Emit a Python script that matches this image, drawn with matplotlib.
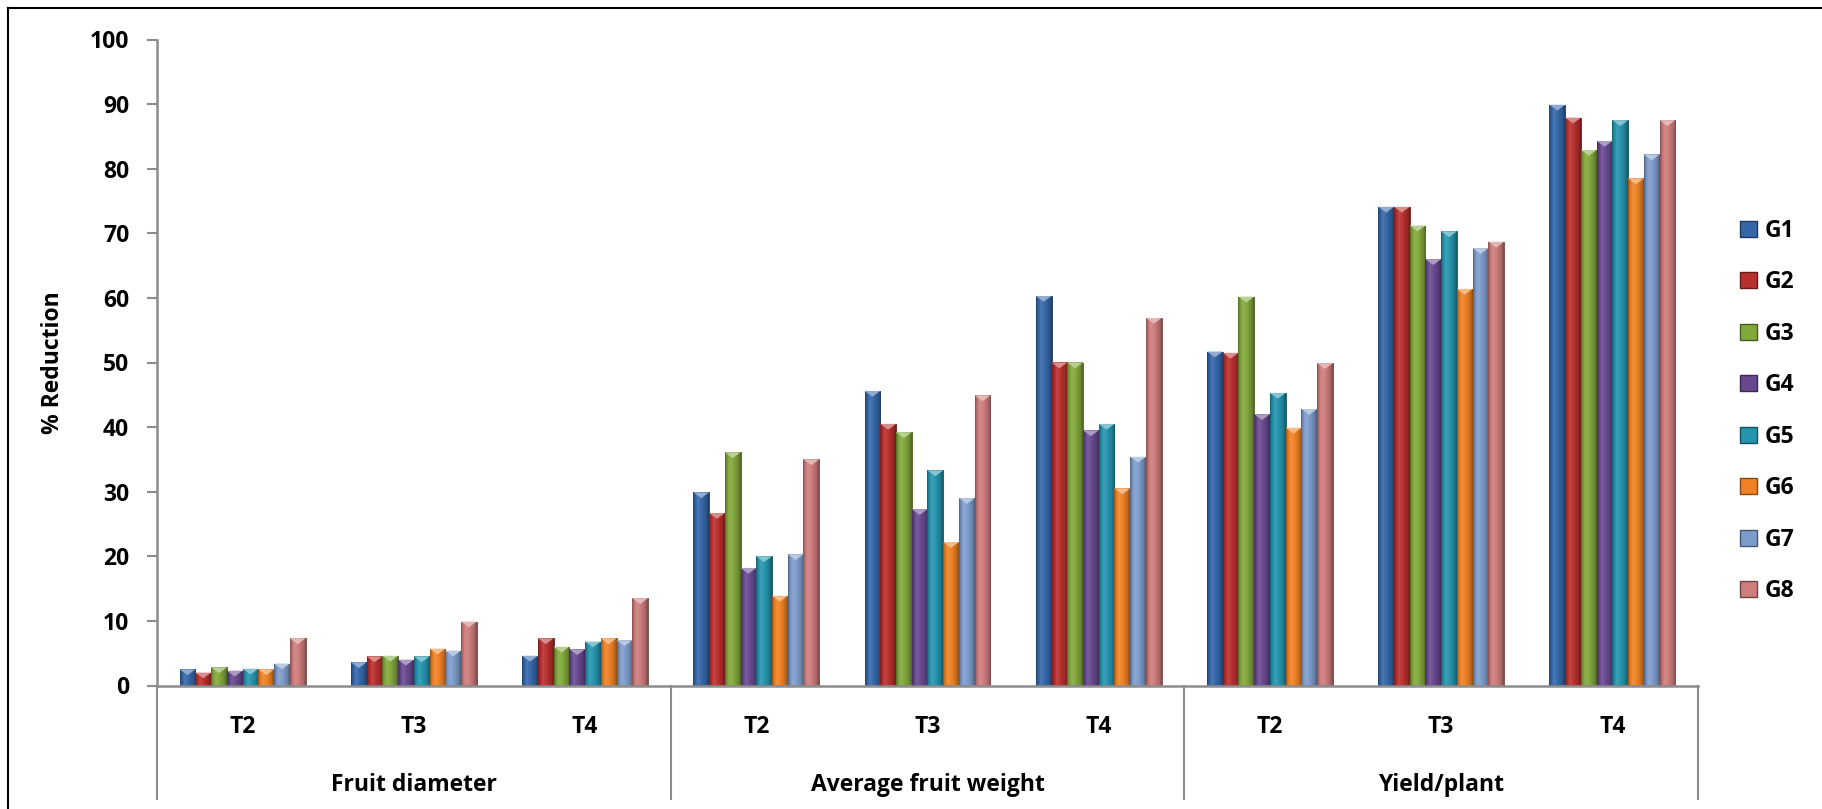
import numpy as np
import matplotlib
matplotlib.use("Agg")
import matplotlib.pyplot as plt
from matplotlib.patches import Patch, Polygon
from matplotlib.colors import to_rgb
import matplotlib.transforms as mtransforms

# ---- data -------------------------------------------------------------
traits = ["Fruit diameter", "Average fruit weight", "Yield/plant"]
treatments = ["T2", "T3", "T4"]
genotypes = ["G1", "G2", "G3", "G4", "G5", "G6", "G7", "G8"]

# % reduction per genotype; order: FD T2,T3,T4 | AFW T2,T3,T4 | Y/P T2,T3,T4
G1 = [2.5, 3.6, 4.6, 29.9, 45.6, 60.3, 51.7, 74.1, 89.9]
G2 = [2.0, 4.5, 7.3, 26.7, 40.5, 50.0, 51.5, 74.1, 87.9]
G3 = [2.8, 4.6, 6.0, 36.1, 39.2, 50.0, 60.2, 71.2, 82.9]
G4 = [2.3, 4.0, 5.6, 18.2, 27.3, 39.5, 42.0, 66.0, 84.3]
G5 = [2.6, 4.5, 6.8, 20.0, 33.3, 40.5, 45.3, 70.3, 87.5]
G6 = [2.5, 5.7, 7.3, 13.9, 22.2, 30.5, 39.9, 61.4, 78.5]
G7 = [3.4, 5.4, 7.0, 20.3, 29.0, 35.4, 42.8, 67.7, 82.2]
G8 = [7.3, 9.9, 13.5, 35.0, 44.9, 56.9, 49.9, 68.7, 87.5]
series = [G1, G2, G3, G4, G5, G6, G7, G8]

yticks = list(range(0, 101, 10))

colors = ["#3567A8", "#B8302E", "#82A83C", "#68498F",
          "#2594AD", "#EE8225", "#7E9CCB", "#CE7C7C"]

# ---- fonts ------------------------------------------------------------
plt.rcParams["font.family"] = ["Open Sans", "DejaVu Sans"]
plt.rcParams["font.weight"] = "bold"
FS = 16.5

W, H = 1822, 809
fig = plt.figure(figsize=(W / 100, H / 100), dpi=100)
fig.patch.set_facecolor("white")

left, right = 157 / W, 1698 / W
bottom, top = 1 - 685.5 / H, 1 - 39.5 / H
ax = fig.add_axes([left, bottom, right - left, top - bottom])

n_cat = len(traits) * len(treatments)
x = np.arange(n_cat) + 0.5
group_frac = 0.735
bw = group_frac / len(series)


def shade(c, f):
    r, g, b = to_rgb(c)
    if f >= 1:
        t = f - 1
        return (r + (1 - r) * t, g + (1 - g) * t, b + (1 - b) * t)
    return (r * f, g * f, b * f)


def gradient_for(c):
    # horizontal cylinder-like shading across each bar
    u = np.linspace(0, 1, 40)
    prof = np.interp(u, [0, 0.08, 0.3, 0.55, 0.85, 1.0],
                     [0.62, 0.85, 1.12, 1.0, 0.82, 0.6])
    img = np.array([shade(c, p) for p in prof])
    return img[np.newaxis, :, :]


for i, (vals, col) in enumerate(zip(series, colors)):
    offs = (i - (len(series) - 1) / 2) * bw
    bars = ax.bar(x + offs, vals, width=bw, color=col,
                  edgecolor=shade(col, 0.55), linewidth=0.6, zorder=2)
    grad = gradient_for(col)
    for rect in bars:
        x0, y0 = rect.get_x(), rect.get_y()
        w, h = rect.get_width(), rect.get_height()
        im = ax.imshow(grad, extent=[x0, x0 + w, y0, y0 + h],
                       aspect="auto", origin="lower", zorder=3,
                       interpolation="bilinear")
        im.set_clip_path(rect)
        # bevel at the top of the bar
        th = min(0.9, h)
        tri = Polygon([(x0, y0 + h), (x0 + w, y0 + h), (x0 + w / 2, y0 + h - th)],
                      closed=True, facecolor=shade(col, 1.45),
                      edgecolor="none", zorder=4)
        ax.add_patch(tri)

ax.set_xlim(0, n_cat)
ax.set_ylim(0, 100)

# ---- axes styling -------------------------------------------------------
axis_col = "#8C8C8C"
for s in ["top", "right"]:
    ax.spines[s].set_visible(False)
ax.spines["left"].set_color(axis_col)
ax.spines["bottom"].set_color(axis_col)
ax.spines["left"].set_linewidth(1.8)
ax.spines["bottom"].set_linewidth(1.8)

ax.set_yticks(yticks)
ax.set_yticklabels([str(v) for v in yticks], fontsize=FS, fontweight="bold")
ax.tick_params(axis="y", direction="out", length=7, width=1.5,
               color=axis_col, pad=13)
ax.set_xticks([])

ax.set_ylabel("% Reduction", fontsize=FS, fontweight="bold", labelpad=18)

# two-level category labels below the axis
trans = mtransforms.blended_transform_factory(ax.transData, ax.transAxes)
ax_h_px = H * (top - bottom)
y_t = -(724 - 685.5) / ax_h_px
y_g = -(782 - 685.5) / ax_h_px
y_sep = -(799 - 685.5) / ax_h_px

for k in range(n_cat):
    ax.text(x[k], y_t, treatments[k % len(treatments)], transform=trans,
            ha="center", va="center_baseline", fontsize=FS, fontweight="bold")
for g, name in enumerate(traits):
    cx = g * len(treatments) + len(treatments) / 2
    ax.text(cx, y_g, name, transform=trans, ha="center", va="center_baseline",
            fontsize=FS, fontweight="bold")
for g in range(len(traits) + 1):
    xs = g * len(treatments)
    ax.plot([xs, xs], [0, y_sep], transform=trans, color=axis_col,
            lw=1.5, clip_on=False, zorder=1)

# ---- legend ---------------------------------------------------------------
handles = [Patch(facecolor=c, edgecolor=shade(c, 0.55), label=g)
           for c, g in zip(colors, genotypes)]
leg = fig.legend(handles=handles, loc="center left",
                 bbox_to_anchor=(1740 / W, 1 - 411 / H), frameon=False,
                 prop={"size": FS, "weight": "bold"},
                 handlelength=0.72, handleheight=0.72, handletextpad=0.35,
                 labelspacing=1.2, borderaxespad=0, borderpad=0)

# thin frame lines along the top and left of the picture
fig.add_artist(plt.Line2D([8 / W, 8 / W], [0, 1 - 8 / H], color="black", lw=1.5))
fig.add_artist(plt.Line2D([8 / W, 1], [1 - 8 / H, 1 - 8 / H], color="black", lw=1.5))

fig.savefig("out.png", dpi=100, facecolor="white")
